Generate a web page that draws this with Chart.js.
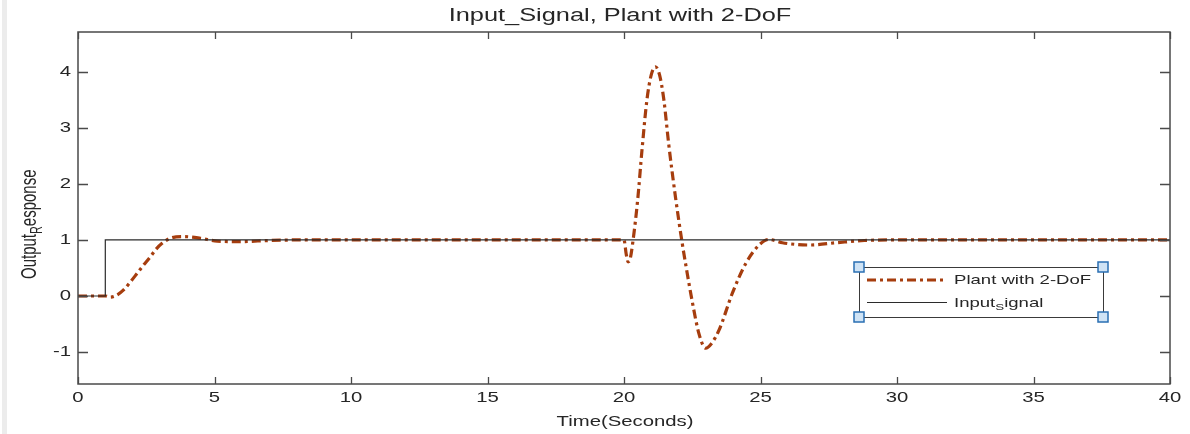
<!DOCTYPE html>
<html>
<head>
<meta charset="utf-8">
<script src="https://cdn.jsdelivr.net/npm/chart.js@4.4.1/dist/chart.umd.min.js"></script>
<style>
  html, body { margin: 0; padding: 0; background: #ffffff; }
  canvas { display: block; }
</style>
</head>
<body>
<canvas id="c" width="1190" height="434"></canvas>
<script>
// ---- data ----
const tPlant = [0, 0.5, 1.0, 1.18, 1.4, 1.67, 1.9, 2.16, 2.4, 2.65, 2.85, 3.08, 3.38, 3.87, 4.49, 5.1, 5.96, 7, 8, 10, 15, 19.9,
  20.0, 20.08, 20.15, 20.22, 20.32, 20.5, 20.66, 20.84, 21.0, 21.15, 21.3, 21.46, 21.64, 21.89, 22.13, 22.3, 22.5, 22.75, 22.99,
  23.2, 23.48, 23.97, 24.46, 24.95, 25.3, 25.8, 26.8, 27.77, 28.8, 30, 35, 40];
const yPlant = [0, 0, 0, -0.02, 0.01, 0.11, 0.24, 0.40, 0.55, 0.70, 0.83, 0.94, 1.03, 1.06, 1.03, 0.98, 0.97, 0.99, 1.0, 1.0, 1.0, 1.0,
  1.0, 0.75, 0.61, 0.65, 0.95, 1.71, 2.61, 3.5, 3.95, 4.09, 3.95, 3.5, 2.7, 1.75, 0.95, 0.45, -0.1, -0.68, -0.93,
  -0.85, -0.61, 0.05, 0.58, 0.91, 1.01, 0.95, 0.91, 0.95, 0.99, 1.0, 1.0, 1.0];
const tInput = [0, 1, 1, 40];
const yInput = [0, 0, 1, 1];
const xTicks = [0, 5, 10, 15, 20, 25, 30, 35, 40];
const yTicks = [-1, 0, 1, 2, 3, 4];
const seriesNames = ["Plant with 2-DoF", "Input_Signal"];
const titleText = "Input_Signal, Plant with 2-DoF";
const xLabelText = "Time(Seconds)";

// ---- styles ----
const FONT = '"Liberation Sans", Arial, sans-serif';
const SX = 1.45;            // horizontal stretch of the reference image
const TXT = '#262626';
const AX = '#4a4a4a';
const BROWN = '#a63d0e';

function stretchedText(ctx, txt, x, y, size, align, baseline) {
  ctx.save();
  ctx.translate(x, y);
  ctx.scale(SX, 1);
  ctx.font = size + 'px ' + FONT;
  ctx.textAlign = align;
  ctx.textBaseline = baseline;
  ctx.fillStyle = TXT;
  ctx.fillText(txt, 0, 0);
  ctx.restore();
}

function subText(ctx, main, sub, rest, size) {
  ctx.font = size + 'px ' + FONT;
  ctx.textAlign = 'left';
  ctx.textBaseline = 'alphabetic';
  ctx.fillStyle = TXT;
  ctx.fillText(main, 0, 0);
  let w = ctx.measureText(main).width;
  ctx.font = (size * 0.72) + 'px ' + FONT;
  ctx.fillText(sub, w, size * 0.28);
  w += ctx.measureText(sub).width;
  ctx.font = size + 'px ' + FONT;
  ctx.fillText(rest, w, 0);
}

const decor = {
  id: 'decor',
  beforeDraw(chart) {
    const ctx = chart.ctx;
    ctx.save();
    ctx.fillStyle = '#ffffff';
    ctx.fillRect(0, 0, chart.width, chart.height);
    ctx.fillStyle = '#ececec';
    ctx.fillRect(2, 0, 5, chart.height);
    ctx.restore();
  },
  afterDraw(chart) {
    const ctx = chart.ctx;
    const a = chart.chartArea;
    const xs = chart.scales.x, ys = chart.scales.y;
    ctx.save();
    ctx.strokeStyle = AX;
    ctx.lineWidth = 1.5;
    ctx.strokeRect(a.left, a.top, a.right - a.left, a.bottom - a.top);
    ctx.lineWidth = 1.3;
    ctx.beginPath();
    xTicks.forEach(v => {
      const px = Math.round(xs.getPixelForValue(v)) + 0.5;
      ctx.moveTo(px, a.bottom); ctx.lineTo(px, a.bottom - 7);
      ctx.moveTo(px, a.top); ctx.lineTo(px, a.top + 7);
    });
    yTicks.forEach(v => {
      const py = Math.round(ys.getPixelForValue(v)) + 0.5;
      ctx.moveTo(a.left, py); ctx.lineTo(a.left + 10, py);
      ctx.moveTo(a.right, py); ctx.lineTo(a.right - 10, py);
    });
    ctx.stroke();
    xTicks.forEach(v => {
      stretchedText(ctx, String(v), xs.getPixelForValue(v), 402, 14, 'center', 'alphabetic');
    });
    yTicks.forEach(v => {
      stretchedText(ctx, String(v), a.left - 7, ys.getPixelForValue(v), 14, 'right', 'middle');
    });
    stretchedText(ctx, titleText, 620, 21, 17.5, 'center', 'alphabetic');
    stretchedText(ctx, xLabelText, 625, 426, 14, 'center', 'alphabetic');
    ctx.save();
    ctx.translate(36, 279);
    ctx.scale(SX, 1);
    ctx.rotate(-Math.PI / 2);
    subText(ctx, 'Output', 'R', 'esponse', 15);
    ctx.restore();

    const L = 859, R = 1103, T = 267, B = 317;
    ctx.fillStyle = '#ffffff';
    ctx.fillRect(L, T, R - L, B - T);
    ctx.strokeStyle = '#3a3a3a';
    ctx.lineWidth = 1;
    ctx.strokeRect(L + 0.5, T + 0.5, R - L, B - T);
    const ds0 = chart.data.datasets[0], ds1 = chart.data.datasets[1];
    ctx.strokeStyle = ds0.borderColor;
    ctx.lineWidth = ds0.borderWidth;
    ctx.setLineDash(ds0.borderDash);
    ctx.beginPath(); ctx.moveTo(867, 280); ctx.lineTo(947, 280); ctx.stroke();
    ctx.setLineDash([]);
    stretchedText(ctx, seriesNames[0], 954, 280, 12.8, 'left', 'middle');
    ctx.strokeStyle = ds1.borderColor;
    ctx.lineWidth = ds1.borderWidth;
    ctx.beginPath(); ctx.moveTo(867, 302.5); ctx.lineTo(947, 302.5); ctx.stroke();
    ctx.save();
    ctx.translate(954, 306.5);
    ctx.scale(SX, 1);
    const parts = seriesNames[1].split('_');
    subText(ctx, parts[0], parts[1].charAt(0), parts[1].slice(1), 12.8);
    ctx.restore();
    [[L, T], [R, T], [L, B], [R, B]].forEach(([hx, hy]) => {
      ctx.fillStyle = '#cfe3f5';
      ctx.strokeStyle = '#2a6fb3';
      ctx.lineWidth = 1.5;
      ctx.fillRect(hx - 5, hy - 5, 10, 10);
      ctx.strokeRect(hx - 5, hy - 5, 10, 10);
    });
    ctx.restore();
  }
};

const plantPts = tPlant.map((t, i) => ({ x: t, y: yPlant[i] }));
const inputPts = tInput.map((t, i) => ({ x: t, y: yInput[i] }));

new Chart(document.getElementById('c'), {
  type: 'line',
  data: {
    datasets: [
      {
        label: seriesNames[0],
        data: plantPts,
        borderColor: BROWN,
        borderWidth: 3.2,
        borderDash: [9, 4, 3, 4],
        pointRadius: 0,
        fill: false,
        cubicInterpolationMode: 'monotone',
        order: 2
      },
      {
        label: seriesNames[1],
        data: inputPts,
        borderColor: '#2b2b2b',
        borderWidth: 1.2,
        pointRadius: 0,
        fill: false,
        tension: 0,
        order: 1
      }
    ]
  },
  options: {
    responsive: false,
    animation: false,
    devicePixelRatio: 1,
    layout: { padding: { left: 0, top: 32, right: 20, bottom: 0 } },
    plugins: { legend: { display: false }, title: { display: false }, tooltip: { enabled: false } },
    scales: {
      x: {
        type: 'linear', min: 0, max: 40,
        grid: { display: false }, border: { display: false },
        ticks: { display: false },
        afterBuildTicks: s => { s.ticks = xTicks.map(v => ({ value: v })); },
        afterFit: s => { s.height = 50; }
      },
      y: {
        type: 'linear', min: -1.57, max: 4.71,
        grid: { display: false }, border: { display: false },
        ticks: { display: false },
        afterBuildTicks: s => { s.ticks = yTicks.map(v => ({ value: v })); },
        afterFit: s => { s.width = 78; }
      }
    }
  },
  plugins: [decor]
});
</script>
</body>
</html>
